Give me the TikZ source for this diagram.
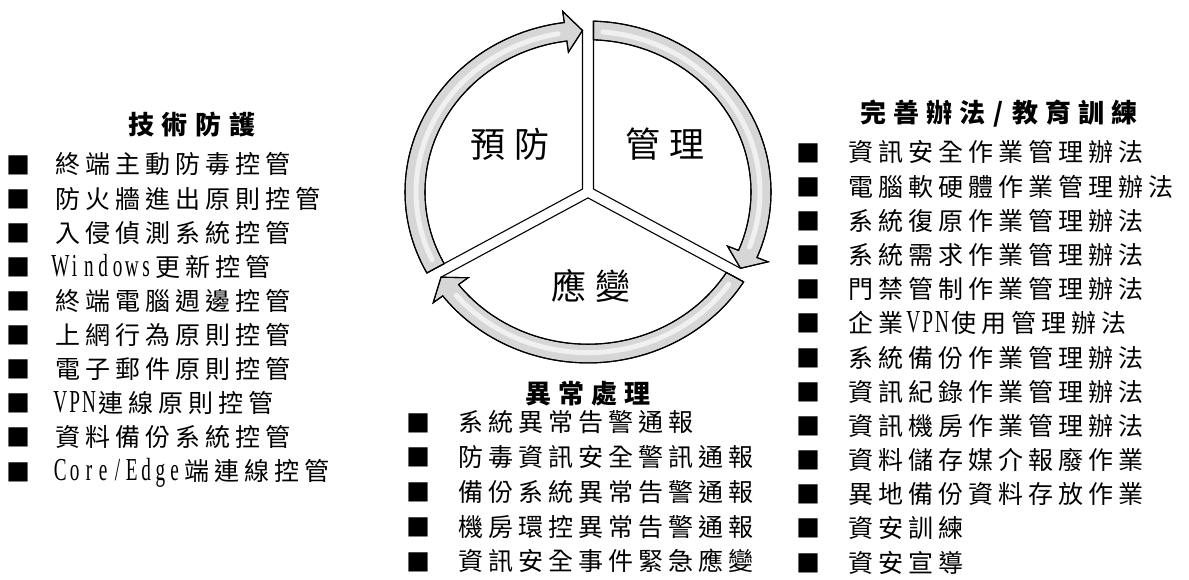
\documentclass[tikz,border=0pt]{standalone}
\usepackage{fontspec}
\usepackage{graphicx}
\setmainfont{Noto Sans CJK TC}
\newfontfamily\latfont{Liberation Serif}
\ExplSyntaxOn
\NewDocumentCommand\cj{O{30pt}m}{\tl_map_inline:nn{#2}{\makebox[#1]{##1}}}
\NewDocumentCommand\la{m}{\tl_map_inline:nn{#1}{\makebox[14.3pt]{\scalebox{0.6}[1]{\latfont\fontsize{32}{32}\selectfont ##1}}}}
\ExplSyntaxOff
\begin{document}
\begin{tikzpicture}[x=1pt,y=1pt,
  item/.style={anchor=west, inner sep=0pt, font=\fontsize{25}{25}\selectfont, text height=21.5pt, text depth=3.5pt},
  bul/.style={anchor=center, inner sep=0pt, font=\fontsize{24}{24}\selectfont},
  head/.style={anchor=center, inner sep=0pt, font=\fontsize{26}{26}\selectfont\bfseries, text height=22.5pt, text depth=3.5pt},
  wl/.style={anchor=center, inner sep=0pt, font=\fontsize{35}{35}\selectfont, text height=30pt, text depth=4.5pt},
  spoke/.style={draw=black, line width=1.1pt},
  band/.style={fill=gray!32, draw=black, line width=1.1pt, line join=miter},
  hl/.style={draw=white, line width=5pt, opacity=0.65, line cap=round}]
\fill[white] (0,0) rectangle (1189,580);
\useasboundingbox (0,0) rectangle (1189,580);
% ---------------- wheel ----------------
\begin{scope}[shift={(588,388)}, yscale=0.934]
  \coordinate (cL) at (150:6.35);
  \coordinate (cR) at (30:6.35);
  \coordinate (cB) at (270:6.35);
  \draw[spoke] (cL) -- (208.28:183);
  \draw[spoke] (cL) -- (91.82:173);
  \draw[spoke] (cR) -- (88.28:183);
  \draw[spoke] (cR) -- (-28.18:173);
  \draw[spoke] (cB) -- (-31.72:183);
  \draw[spoke] (cB) -- (-148.18:173);
  % left band
  \path[band] (208.28:183) arc[start angle=208.28, end angle=97.45, radius=183]
     -- (97.45:195) -- (91.82:173) -- (97.45:151) -- (97.45:163)
     arc[start angle=97.45, end angle=208.07, radius=163] -- cycle;
  \draw[hl] (205:172) arc[start angle=205, end angle=100, radius=172];
  \path[band, fill=none] (208.28:183) arc[start angle=208.28, end angle=97.45, radius=183]
     -- (97.45:195) -- (91.82:173) -- (97.45:151) -- (97.45:163)
     arc[start angle=97.45, end angle=208.07, radius=163] -- cycle;
  % right band
  \path[band] (88.28:183) arc[start angle=88.28, end angle=-22.55, radius=183]
     -- (-22.55:195) -- (-28.18:173) -- (-22.55:151) -- (-22.55:163)
     arc[start angle=-22.55, end angle=88.07, radius=163] -- cycle;
  \draw[hl] (85:172) arc[start angle=85, end angle=-20, radius=172];
  \path[band, fill=none] (88.28:183) arc[start angle=88.28, end angle=-22.55, radius=183]
     -- (-22.55:195) -- (-28.18:173) -- (-22.55:151) -- (-22.55:163)
     arc[start angle=-22.55, end angle=88.07, radius=163] -- cycle;
  % bottom band
  \path[band] (-31.72:183) arc[start angle=-31.72, end angle=-142.55, radius=183]
     -- (-142.55:195) -- (-148.18:173) -- (-142.55:151) -- (-142.55:163)
     arc[start angle=-142.55, end angle=-31.93, radius=163] -- cycle;
  \draw[hl] (-35:172) arc[start angle=-35, end angle=-140, radius=172];
  \path[band, fill=none] (-31.72:183) arc[start angle=-31.72, end angle=-142.55, radius=183]
     -- (-142.55:195) -- (-148.18:173) -- (-142.55:151) -- (-142.55:163)
     arc[start angle=-142.55, end angle=-31.93, radius=163] -- cycle;
\end{scope}
\node[wl] (yufang) at (510,435) {\cj[44pt]{預防}};
\node[wl] (guanli) at (665,435) {\cj[44pt]{管理}};
\node[wl] (yingbian) at (591,293) {\cj[44pt]{應變}};
% ---------------- left list ----------------
\node[head] (hL) at (192,455) {\cj[34pt]{技術防護}};
\foreach \t [count=\i] in {
  {\cj{終端主動防毒控管}},
  {\cj{防火牆進出原則控管}},
  {\cj{入侵偵測系統控管}},
  {\la{Windows}\cj{更新控管}},
  {\cj{終端電腦週邊控管}},
  {\cj{上網行為原則控管}},
  {\cj{電子郵件原則控管}},
  {\la{VPN}\cj{連線原則控管}},
  {\cj{資料備份系統控管}},
  {\la{Core/Edge}\cj{端連線控管}}}{
  \node[item] (L\i) at (53,{580-165-34.1*(\i-1)}) {\t};
  \node[bul] (bL\i) at (18.5,{580-165-34.1*(\i-1)}) {■};
}
% ---------------- middle list ----------------
\node[head] (hM) at (588,186) {\cj[33pt]{異常處理}};
\foreach \t [count=\i] in {
  {\cj{系統異常告警通報}},
  {\cj{防毒資訊安全警訊通報}},
  {\cj{備份系統異常告警通報}},
  {\cj{機房環控異常告警通報}},
  {\cj{資訊安全事件緊急應變}}}{
  \node[item] (M\i) at (456,{580-423-34.75*(\i-1)}) {\t};
  \node[bul] (bM\i) at (418.5,{580-423-34.75*(\i-1)}) {■};
}
% ---------------- right list ----------------
\node[head] (hR) at (999,467) {\cj[33pt]{完善辦法}\makebox[20pt]{/}\cj[33pt]{教育訓練}};
\foreach \t [count=\i] in {
  {\cj{資訊安全作業管理辦法}},
  {\cj{電腦軟硬體作業管理辦法}},
  {\cj{系統復原作業管理辦法}},
  {\cj{系統需求作業管理辦法}},
  {\cj{門禁管制作業管理辦法}},
  {\cj{企業}\la{VPN}\cj{使用管理辦法}},
  {\cj{系統備份作業管理辦法}},
  {\cj{資訊紀錄作業管理辦法}},
  {\cj{資訊機房作業管理辦法}},
  {\cj{資料儲存媒介報廢作業}},
  {\cj{異地備份資料存放作業}},
  {\cj{資安訓練}},
  {\cj{資安宣導}}}{
  \node[item] (R\i) at (846,{580-153-34.17*(\i-1)}) {\t};
  \node[bul] (bR\i) at (808.5,{580-153-34.17*(\i-1)}) {■};
}
\end{tikzpicture}
\end{document}
